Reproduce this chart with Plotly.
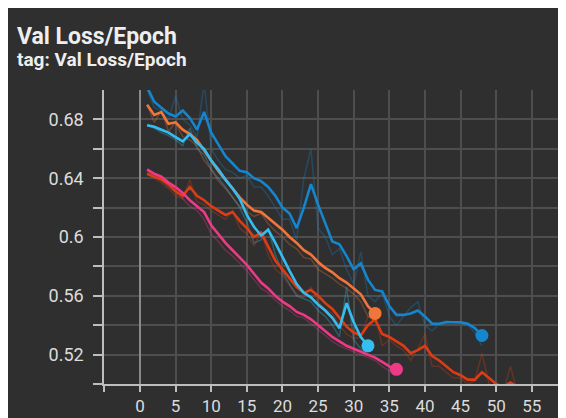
import plotly.graph_objects as go

# ---------------- data ----------------
blue_x = list(range(1, 49))
blue_smooth = [0.702, 0.692, 0.688, 0.684, 0.682, 0.686, 0.681, 0.673, 0.685, 0.671,
               0.663, 0.655, 0.650, 0.645, 0.644, 0.640, 0.638, 0.634, 0.628, 0.620,
               0.616, 0.606, 0.620, 0.636, 0.622, 0.609, 0.597, 0.595, 0.587, 0.578,
               0.582, 0.571, 0.564, 0.563, 0.553, 0.547, 0.547, 0.548, 0.550, 0.546,
               0.541, 0.541, 0.542, 0.542, 0.542, 0.541, 0.538, 0.533]
blue_raw = [0.700, 0.688, 0.686, 0.680, 0.696, 0.680, 0.676, 0.668, 0.705, 0.660,
            0.652, 0.646, 0.644, 0.640, 0.642, 0.634, 0.634, 0.628, 0.620, 0.612,
            0.612, 0.598, 0.640, 0.660, 0.606, 0.600, 0.588, 0.592, 0.578, 0.568,
            0.590, 0.560, 0.556, 0.562, 0.546, 0.540, 0.546, 0.552, 0.556, 0.540,
            0.536, 0.541, 0.543, 0.542, 0.541, 0.540, 0.535, 0.526]

orange_x = list(range(1, 34))
orange_smooth = [0.690, 0.683, 0.685, 0.677, 0.678, 0.673, 0.670, 0.666, 0.659, 0.652,
                 0.645, 0.639, 0.633, 0.627, 0.622, 0.618, 0.617, 0.613, 0.609, 0.605,
                 0.600, 0.596, 0.591, 0.588, 0.583, 0.579, 0.576, 0.572, 0.569, 0.565,
                 0.561, 0.553, 0.548]
orange_raw = [0.690, 0.678, 0.686, 0.672, 0.678, 0.668, 0.666, 0.662, 0.652, 0.646,
              0.638, 0.633, 0.627, 0.621, 0.617, 0.614, 0.616, 0.609, 0.604, 0.600,
              0.595, 0.592, 0.586, 0.585, 0.578, 0.575, 0.572, 0.568, 0.565, 0.561,
              0.556, 0.546, 0.543]

cyan_x = list(range(1, 33))
cyan_smooth = [0.676, 0.675, 0.673, 0.671, 0.668, 0.665, 0.670, 0.664, 0.660, 0.652,
               0.646, 0.639, 0.633, 0.626, 0.615, 0.607, 0.601, 0.605, 0.596, 0.586,
               0.577, 0.568, 0.562, 0.559, 0.554, 0.550, 0.545, 0.538, 0.555, 0.542,
               0.532, 0.526]
cyan_raw = [0.676, 0.674, 0.671, 0.669, 0.666, 0.662, 0.674, 0.660, 0.656, 0.646,
            0.640, 0.634, 0.627, 0.620, 0.610, 0.596, 0.598, 0.606, 0.588, 0.576,
            0.568, 0.560, 0.558, 0.556, 0.550, 0.546, 0.540, 0.532, 0.566, 0.530,
            0.524, 0.520]

red_x = list(range(1, 55))
red_smooth = [0.643, 0.641, 0.639, 0.636, 0.631, 0.628, 0.634, 0.628, 0.625, 0.621,
              0.618, 0.615, 0.617, 0.611, 0.606, 0.600, 0.603, 0.594, 0.584, 0.578,
              0.572, 0.566, 0.562, 0.564, 0.560, 0.555, 0.551, 0.545, 0.539, 0.535,
              0.533, 0.540, 0.544, 0.534, 0.532, 0.529, 0.526, 0.521, 0.523, 0.526,
              0.519, 0.516, 0.512, 0.508, 0.506, 0.503, 0.503, 0.508, 0.504, 0.500,
              0.498, 0.501, 0.498, 0.497]
red_raw = [0.643, 0.640, 0.637, 0.633, 0.628, 0.626, 0.639, 0.624, 0.622, 0.618,
           0.615, 0.612, 0.618, 0.606, 0.602, 0.594, 0.604, 0.588, 0.578, 0.574,
           0.567, 0.561, 0.559, 0.566, 0.556, 0.551, 0.548, 0.540, 0.534, 0.531,
           0.532, 0.546, 0.546, 0.526, 0.530, 0.526, 0.523, 0.516, 0.524, 0.534,
           0.512, 0.512, 0.508, 0.504, 0.504, 0.500, 0.502, 0.521, 0.500, 0.496,
           0.495, 0.512, 0.494, 0.495]

pink_x = list(range(1, 37))
pink_smooth = [0.646, 0.643, 0.641, 0.637, 0.634, 0.630, 0.625, 0.621, 0.617, 0.608,
               0.602, 0.596, 0.591, 0.586, 0.581, 0.575, 0.569, 0.565, 0.560, 0.556,
               0.553, 0.549, 0.547, 0.544, 0.540, 0.536, 0.532, 0.529, 0.526, 0.524,
               0.522, 0.520, 0.518, 0.515, 0.512, 0.510]
pink_raw = [0.645, 0.641, 0.639, 0.634, 0.631, 0.626, 0.621, 0.618, 0.612, 0.602,
            0.597, 0.591, 0.587, 0.582, 0.577, 0.571, 0.565, 0.562, 0.557, 0.553,
            0.550, 0.546, 0.545, 0.541, 0.537, 0.533, 0.529, 0.526, 0.524, 0.522,
            0.520, 0.518, 0.516, 0.512, 0.509, 0.508]

x_ticks = [-5, 0, 5, 10, 15, 20, 25, 30, 35, 40, 45, 50, 55]
x_labels = ["", "0", "5", "10", "15", "20", "25", "30", "35", "40", "45", "50", "55"]
y_ticks = [0.50, 0.52, 0.54, 0.56, 0.58, 0.60, 0.62, 0.64, 0.66, 0.68]
y_labels = ["", "0.52", "", "0.56", "", "0.6", "", "0.64", "", "0.68"]

# ---------------- figure ----------------
BG = "#2f2f2f"
series = [
    (blue_x, blue_raw, blue_smooth, "#1585cd", True),
    (red_x, red_raw, red_smooth, "#dd3c14", False),
    (orange_x, orange_raw, orange_smooth, "#f0763c", True),
    (cyan_x, cyan_raw, cyan_smooth, "#36bdf0", True),
    (pink_x, pink_raw, pink_smooth, "#ee3a86", True),
]

fig = go.Figure()
for xs, raw, sm, col, dot in series:
    fig.add_trace(go.Scatter(x=xs, y=raw, mode="lines", opacity=0.3,
                             line=dict(color=col, width=1.5), hoverinfo="skip",
                             showlegend=False))
for xs, raw, sm, col, dot in series:
    fig.add_trace(go.Scatter(x=xs, y=sm, mode="lines",
                             line=dict(color=col, width=2.6), showlegend=False))
    if dot:
        fig.add_trace(go.Scatter(x=[xs[-1]], y=[sm[-1]], mode="markers",
                                 marker=dict(color=col, size=13), showlegend=False))

axis_col = "#bdbdbd"
grid_col = "#4e4e4e"
tick_font = dict(family="Roboto", size=18, color="#dcdcdc")
xtick_font = dict(family="Roboto", size=17, color="#dcdcdc")

# page has an 8px body margin; keep the figure inside the 566x418 window
W, H = 558, 410
ML, MT, PW, PH = 96, 82, 462, 294

fig.update_layout(
    width=W, height=H,
    margin=dict(l=ML, r=W - ML - PW, t=MT, b=H - MT - PH, pad=0, autoexpand=False),
    paper_bgcolor=BG, plot_bgcolor=BG,
    xaxis=dict(range=[-5.05, 59.8], tickmode="array", tickvals=x_ticks, ticktext=x_labels,
               ticks="outside", ticklen=6, tickwidth=1.5, tickcolor=axis_col,
               showline=True, linecolor=axis_col, linewidth=1.5,
               showgrid=True, gridcolor=grid_col, gridwidth=1.5,
               zeroline=True, zerolinecolor="#8a8a8a", zerolinewidth=1.5,
               tickfont=xtick_font, ticklabelstandoff=0, automargin=False),
    yaxis=dict(range=[0.5, 0.7], tickmode="array", tickvals=y_ticks, ticktext=y_labels,
               ticks="outside", ticklen=9, tickwidth=1.5, tickcolor=axis_col,
               showline=True, linecolor=axis_col, linewidth=1.5,
               showgrid=True, gridcolor=grid_col, gridwidth=1.5,
               zeroline=False, tickfont=tick_font, ticklabelstandoff=6, automargin=False),
    annotations=[
        dict(text="Val Loss/Epoch", xref="paper", yref="paper",
             x=(7 - ML) / PW, y=(MT + PH - 13) / PH, xanchor="left", yanchor="top",
             showarrow=False,
             font=dict(family="Roboto", size=23, color="#eeeeee", weight="bold")),
        dict(text="tag: Val Loss/Epoch", xref="paper", yref="paper",
             x=(7 - ML) / PW, y=(MT + PH - 38) / PH, xanchor="left", yanchor="top",
             showarrow=False,
             font=dict(family="Roboto", size=19, color="#eeeeee", weight="bold")),
    ],
)

fig.write_html("out.html")
